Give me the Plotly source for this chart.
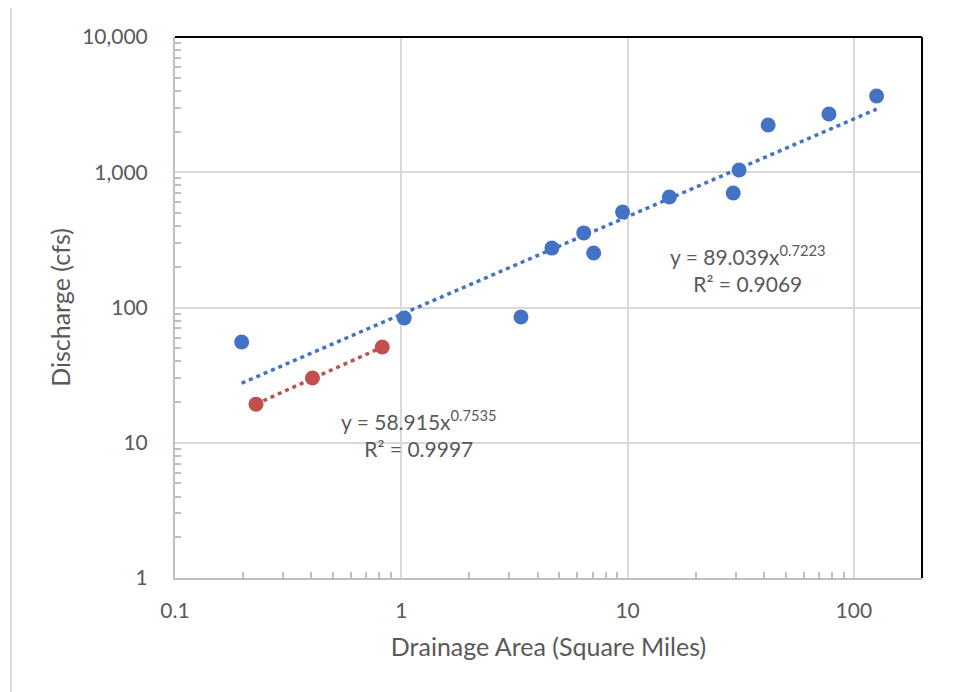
import numpy as np
import plotly.graph_objects as go

# Blue series (larger basins)
blue_area = [0.197, 1.03, 3.38, 4.63, 6.4, 7.08, 9.5, 15.3, 29.3, 31.1, 41.8, 77.6, 126]
blue_q = [55.6, 83.6, 85, 275, 356, 253, 508, 656, 703, 1040, 2235, 2697, 3663]
# Red series (small basins)
red_area = [0.228, 0.405, 0.824]
red_q = [19.3, 30.1, 51]

# Power trendline coefficients y = a * x^b
blue_a, blue_b, blue_r2 = 89.039, 0.7223, 0.9069
red_a, red_b, red_r2 = 58.915, 0.7535, 0.9997

x_ticks = [0.1, 1, 10, 100]
x_ticktext = ["0.1", "1", "10", "100"]
y_ticks = [1, 10, 100, 1000, 10000]
y_ticktext = ["1", "10", "100", "1,000", "10,000"]
x_minor = [m * d for d in [0.1, 1, 10, 100] for m in range(2, 10) if m * d < 200]
y_minor = [m * d for d in [1, 10, 100, 1000] for m in range(2, 10)]

BLUE = "#4472C4"
RED = "#C0504D"
FONT = "Lato"
GREY_TXT = "#595959"

def trend(xs, a, b):
    lx = np.logspace(np.log10(min(xs)), np.log10(max(xs)), 60)
    return lx, a * lx ** b

fig = go.Figure()
bx, by = trend(blue_area, blue_a, blue_b)
rx, ry = trend(red_area, red_a, red_b)
fig.add_trace(go.Scatter(x=bx, y=by, mode="lines", line=dict(color=BLUE, width=3.5, dash="4px,4px"), hoverinfo="skip"))
fig.add_trace(go.Scatter(x=rx, y=ry, mode="lines", line=dict(color=RED, width=3.5, dash="4px,4px"), hoverinfo="skip"))
fig.add_trace(go.Scatter(x=blue_area, y=blue_q, mode="markers", marker=dict(color=BLUE, size=15)))
fig.add_trace(go.Scatter(x=red_area, y=red_q, mode="markers", marker=dict(color=RED, size=15)))

L, T, PW, PH = 167, 29, 747, 541
fig.update_layout(
    width=958, height=692,
    margin=dict(l=L, r=958 - L - PW, t=T, b=692 - T - PH),
    paper_bgcolor="white", plot_bgcolor="white",
    showlegend=False,
    font=dict(family=FONT, color=GREY_TXT, size=21),
)
fig.update_xaxes(
    type="log", range=[-1, np.log10(200)],
    tickvals=x_ticks, ticktext=x_ticktext,
    showgrid=True, gridcolor="#D9D9D9", gridwidth=1.5,
    showline=True, linecolor="#BFBFBF", linewidth=2,
    ticks="", ticklabelstandoff=13,
    minor=dict(tickmode="array", tickvals=x_minor, ticks="inside", ticklen=6,
               tickcolor="#BFBFBF", tickwidth=1.5, showgrid=False),
    title=dict(text="Drainage Area (Square Miles)", font=dict(size=25, color=GREY_TXT), standoff=17),
    zeroline=False,
)
fig.update_yaxes(
    type="log", range=[0, 4],
    tickvals=y_ticks, ticktext=y_ticktext,
    showgrid=True, gridcolor="#D9D9D9", gridwidth=1.5,
    showline=True, linecolor="#BFBFBF", linewidth=2,
    ticks="", ticklabelstandoff=21,
    minor=dict(tickmode="array", tickvals=y_minor, ticks="inside", ticklen=6,
               tickcolor="#BFBFBF", tickwidth=1.5, showgrid=False),
    title=dict(text="Discharge (cfs)", font=dict(size=25, color=GREY_TXT), standoff=4),
    zeroline=False,
)
# top and right plot-area border (black)
fig.add_shape(type="line", xref="paper", yref="paper", x0=0, x1=1, y0=1, y1=1, line=dict(color="black", width=2))
fig.add_shape(type="line", xref="paper", yref="paper", x0=1, x1=1, y0=0, y1=1, line=dict(color="black", width=2))
# outer chart border on left
bx0 = (3 - L) / PW
fig.add_shape(type="line", xref="paper", yref="paper", x0=bx0, x1=bx0, y0=-(692 - T - PH) / PH, y1=1 + T / PH,
              line=dict(color="#D9D9D9", width=2))

fig.add_annotation(x=np.log10(34), y=np.log10(193), xref="x", yref="y", showarrow=False,
                   text=f"y = {blue_a}x<sup>{blue_b}</sup><br>R² = {blue_r2}", font=dict(size=21, color=GREY_TXT))
fig.add_annotation(x=np.log10(1.2), y=np.log10(11.8), xref="x", yref="y", showarrow=False,
                   text=f"y = {red_a}x<sup>{red_b}</sup><br>R² = {red_r2}", font=dict(size=21, color=GREY_TXT))

fig.write_html("out.html")
